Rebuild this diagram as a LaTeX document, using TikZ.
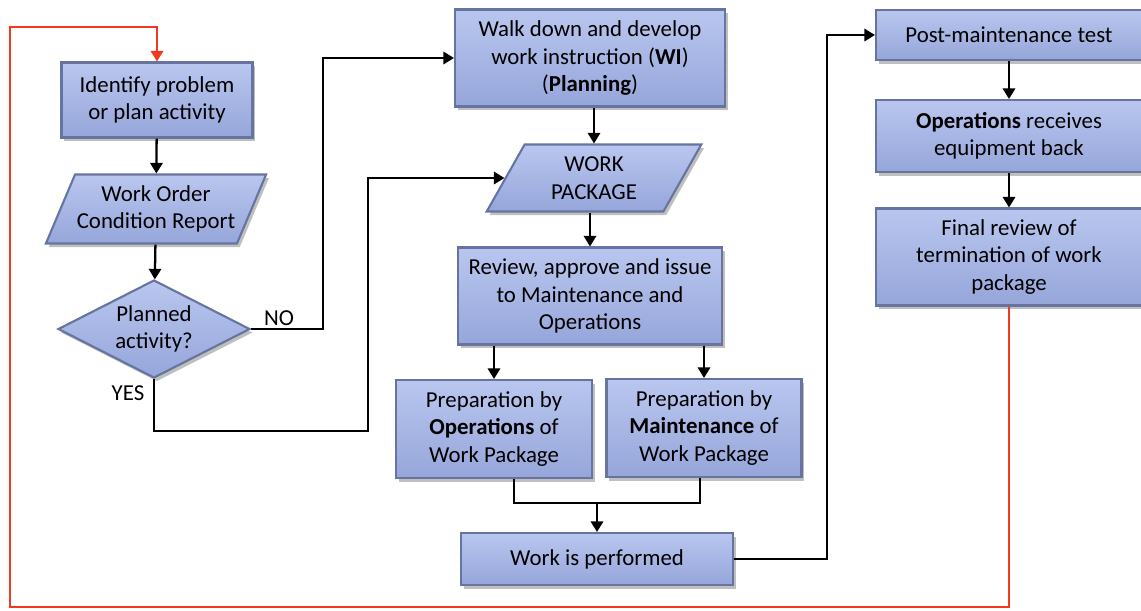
\documentclass[tikz,border=0pt]{standalone}
\usepackage{fontspec}
\setmainfont{Carlito}
\usetikzlibrary{shapes.geometric,shadows,arrows.meta}
\definecolor{boxtop}{HTML}{B9C6EF}
\definecolor{boxbot}{HTML}{96A6DA}
\definecolor{boxline}{HTML}{66749F}
\definecolor{loopred}{HTML}{F0391E}
\tikzset{
  box/.style={rectangle, top color=boxtop, bottom color=boxbot, draw=boxline, line width=1.2pt,
    drop shadow={shadow xshift=1.6pt, shadow yshift=-2pt, opacity=0.5},
    align=center, inner sep=1pt, font=\fontsize{13}{15.6}\selectfont},
  databox/.style={box, trapezium, trapezium left angle=60, trapezium right angle=120,
    trapezium stretches=true},
  decbox/.style={box, diamond, aspect=2, inner sep=0pt},
  lbl/.style={font=\fontsize{13}{15.6}\selectfont, inner sep=1pt},
  flow/.style={line width=1.3pt, -{Triangle[length=6pt,width=7pt]}},
  line/.style={line width=1.3pt},
  loopline/.style={line width=1.4pt, loopred, -{Triangle[length=6pt,width=7pt]}}
}
\begin{document}
\begin{tikzpicture}[x=0.02cm,y=-0.02cm]
\useasboundingbox (0,0) rectangle (1141,610);
% left column
\node[box, minimum width=3.82cm, minimum height=1.5cm] (ident) at (157,100) {Identify problem\\or plan activity};
\node[databox, minimum width=4.36cm, minimum height=1.38cm] (order) at (156,209) {Work Order\\Condition Report};
\node[decbox, minimum width=3.84cm, minimum height=1.96cm] (planned) at (154,329) {Planned\\activity?};
\node[lbl] (nolbl) at (279,318) {NO};
\node[lbl] (yeslbl) at (128,393) {YES};
% middle column
\node[box, minimum width=5.4cm, minimum height=1.94cm] (walk) at (590,58) {Walk down and develop\\work instruction (\textbf{WI})\\(\textbf{Planning})};
\node[databox, trapezium left angle=62, trapezium right angle=118, minimum width=4.3cm, minimum height=1.34cm] (wpack) at (594,178) {WORK\\PACKAGE};
\node[box, minimum width=5.28cm, minimum height=1.94cm] (review) at (590,296) {Review, approve and issue\\to Maintenance and\\Operations};
\node[box, minimum width=3.92cm, minimum height=1.96cm] (prepops) at (494,429) {Preparation by\\\textbf{Operations} of\\Work Package};
\node[box, minimum width=3.9cm, minimum height=1.96cm] (prepmnt) at (704,428) {Preparation by\\\textbf{Maintenance} of\\Work Package};
\node[box, minimum width=5.44cm, minimum height=1.04cm] (perform) at (597,559) {Work is performed};
% right column
\node[box, minimum width=5.32cm, minimum height=1.0cm] (post) at (1009,35) {Post-maintenance test};
\node[box, minimum width=5.32cm, minimum height=1.44cm] (receive) at (1009,136) {\textbf{Operations} receives\\equipment back};
\node[box, minimum width=5.32cm, minimum height=1.94cm] (final) at (1009,257) {Final review of\\termination of work\\package};
\coordinate (join) at (597,503);
\coordinate (cornerbl) at (10,607);
\coordinate (cornertl) at (10,27);
% connectors
\draw[flow] (ident) -- (order);
\draw[flow] (order) -- (planned);
\draw[flow] (planned.east) -- ++(72,0) |- (walk);
\draw[flow] (planned.south) -- ++(0,52) -- ++(214,0) |- (wpack);
\draw[flow] (walk.south -| wpack.north) -- (wpack.north);
\draw[flow] (wpack.south -| review.north) -- (review);
\draw[flow] (review.south -| prepops) -- (prepops);
\draw[flow] (review.south -| prepmnt) -- (prepmnt);
\draw[line] ([xshift=0.4cm]prepops.south) |- (join);
\draw[line] ([xshift=-0.08cm]prepmnt.south) |- (join);
\draw[flow] (join) -- (perform);
\draw[flow] (perform.east) -- ++(93,0) |- (post);
\draw[flow] (post) -- (receive);
\draw[flow] (receive) -- (final);
\draw[loopline] (final.south) |- (cornerbl) -- (cornertl) -| (ident.north);
\end{tikzpicture}
\end{document}
